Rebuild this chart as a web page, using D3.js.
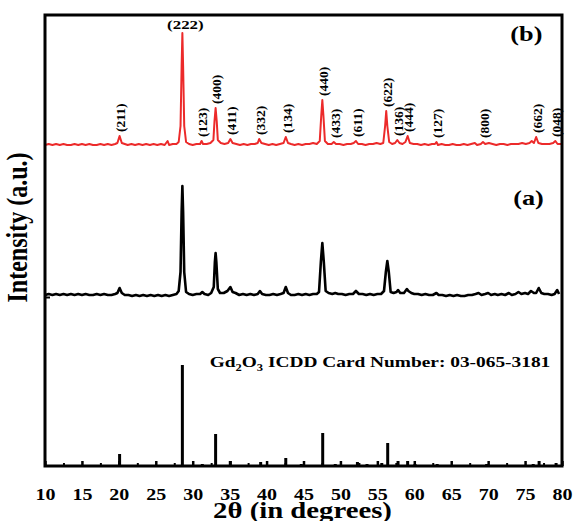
<!DOCTYPE html>
<html>
<head>
<meta charset="utf-8">
<script src="https://cdn.jsdelivr.net/npm/d3@7/dist/d3.min.js"></script>
<style>
    body { margin: 0; background: #fff; }
    text { font-family: "Liberation Serif", "Times New Roman", serif; font-weight: bold; }
</style>
</head>
<body>
<div id="chart"></div>
<script>
// 2theta ticks
const xMajor = [10, 15, 20, 25, 30, 35, 40, 45, 50, 55, 60, 65, 70, 75, 80]
const xMinor = [12.5, 17.5, 22.5, 27.5, 32.5, 37.5, 42.5, 47.5, 52.5, 57.5, 62.5, 67.5, 72.5, 77.5]

// (b) trace, [2theta, intensity a.u.] above its own baseline
const traceB = [
    [10, 1], [10.5, 2], [11, 1], [11.5, 2], [12, 1], [12.5, 2], [13, 1], [13.5, 1], [14, 2], [14.5, 1],
    [15, 2], [15.5, 1], [16, 2], [16.5, 1], [17, 1], [17.5, 2], [18, 1], [18.5, 2], [19, 1], [19.5, 2],
    [19.8, 3], [20.1, 10], [20.4, 3], [20.8, 2], [21.2, 1], [21.7, 2], [22.2, 1], [22.7, 2], [23.2, 1], [23.7, 2],
    [24.2, 1], [24.7, 2], [25.2, 1], [25.7, 2], [26.2, 1], [26.6, 5], [26.8, 1], [27.3, 2], [27.8, 2], [28.1, 4],
    [28.35, 20], [28.5, 80], [28.6, 113], [28.7, 80], [28.85, 20], [29.1, 4], [29.5, 2], [30, 1], [30.5, 2], [31, 2],
    [31.2, 5], [31.4, 2], [31.9, 2], [32.4, 3], [32.8, 6], [32.95, 25], [33.1, 38], [33.25, 25], [33.4, 6], [33.8, 3],
    [34.3, 2], [34.8, 3], [35.1, 7], [35.4, 3], [35.9, 2], [36.4, 1], [36.9, 2], [37.4, 1], [37.9, 2], [38.4, 2],
    [38.8, 3], [39.0, 7], [39.3, 3], [39.8, 2], [40.3, 1], [40.8, 2], [41.3, 1], [41.8, 2], [42.3, 3], [42.6, 9],
    [42.9, 3], [43.3, 2], [43.8, 1], [44.3, 2], [44.8, 1], [45.3, 2], [45.8, 2], [46.3, 3], [46.8, 2], [47.2, 5],
    [47.4, 30], [47.55, 46], [47.7, 30], [47.9, 5], [48.3, 2], [48.8, 2], [49.1, 4], [49.4, 2], [49.9, 2], [50.4, 1],
    [50.9, 2], [51.4, 2], [51.8, 3], [52.1, 5], [52.4, 2], [52.9, 2], [53.4, 1], [53.9, 2], [54.4, 2], [54.9, 3],
    [55.4, 2], [55.8, 3], [56.05, 20], [56.2, 35], [56.35, 20], [56.6, 4], [57, 2], [57.4, 3], [57.7, 6], [58, 3],
    [58.4, 2], [58.8, 4], [59.1, 10], [59.4, 3], [59.9, 2], [60.4, 2], [60.9, 1], [61.4, 2], [61.9, 1], [62.4, 2],
    [62.8, 2], [63, 4], [63.2, 1], [63.7, 2], [64.2, 1], [64.7, 1], [65.2, 2], [65.7, 1], [66.2, 1], [66.7, 2],
    [67.2, 1], [67.7, 2], [68.2, 3], [68.5, 1], [69, 2], [69.3, 4], [69.6, 2], [70.1, 3], [70.6, 2], [71.1, 1],
    [71.6, 2], [72.1, 2], [72.6, 1], [73.1, 2], [73.6, 2], [74.1, 2], [74.6, 3], [75.1, 2], [75.6, 3], [75.9, 5],
    [76.2, 3], [76.5, 9], [76.8, 3], [77.3, 2], [77.8, 2], [78.3, 2], [78.8, 3], [79.1, 5], [79.4, 2], [79.9, 2]
]

// (a) trace
const traceA = [
    [10, 2], [10.5, 3], [11, 2], [11.5, 3], [12, 2], [12.5, 3], [13, 2], [13.5, 3], [14, 2], [14.5, 3],
    [15, 2], [15.5, 3], [16, 2], [16.5, 2], [17, 3], [17.5, 2], [18, 3], [18.5, 2], [19, 2], [19.5, 3],
    [19.8, 4], [20.1, 9], [20.4, 4], [20.8, 2], [21.3, 2], [21.8, 1], [22.3, 2], [22.8, 1], [23.3, 2], [23.8, 1],
    [24.3, 2], [24.8, 1], [25.3, 2], [25.8, 1], [26.3, 2], [26.8, 1], [27.3, 2], [27.8, 3], [28.1, 6], [28.35, 25],
    [28.5, 85], [28.6, 111], [28.7, 85], [28.85, 25], [29.1, 5], [29.5, 3], [30, 2], [30.5, 3], [31, 3], [31.3, 5],
    [31.6, 3], [32.1, 2], [32.5, 4], [32.85, 10], [33, 35], [33.1, 44], [33.2, 35], [33.4, 8], [33.7, 4], [34.2, 4],
    [34.7, 6], [35.1, 10], [35.4, 5], [35.8, 4], [36.3, 2], [36.8, 3], [37.3, 2], [37.8, 3], [38.3, 2], [38.8, 3],
    [39.1, 6], [39.4, 3], [39.9, 2], [40.4, 2], [40.9, 3], [41.4, 2], [41.9, 3], [42.3, 4], [42.6, 10], [42.9, 4],
    [43.3, 2], [43.8, 2], [44.3, 3], [44.8, 2], [45.3, 3], [45.8, 2], [46.3, 3], [46.8, 3], [47.1, 5], [47.35, 35],
    [47.55, 54], [47.75, 35], [48, 6], [48.4, 4], [48.9, 3], [49.3, 4], [49.7, 3], [50.2, 3], [50.7, 2], [51.2, 3],
    [51.7, 3], [52.1, 6], [52.5, 3], [53, 3], [53.5, 2], [54, 3], [54.5, 2], [55, 3], [55.5, 3], [55.9, 6],
    [56.15, 25], [56.35, 36], [56.55, 25], [56.8, 5], [57.2, 4], [57.6, 5], [57.8, 7], [58.1, 4], [58.6, 4], [59, 8],
    [59.2, 6], [59.6, 4], [60, 3], [60.5, 3], [61, 2], [61.5, 3], [62, 2], [62.5, 2], [63, 4], [63.3, 2],
    [63.8, 2], [64.3, 1], [64.8, 2], [65.3, 1], [65.8, 2], [66.3, 1], [66.8, 1], [67.3, 2], [67.8, 2], [68.3, 3],
    [68.7, 4], [69.1, 2], [69.6, 3], [70, 4], [70.4, 2], [70.9, 3], [71.3, 2], [71.8, 3], [72.3, 2], [72.8, 4],
    [73.2, 2], [73.7, 3], [74.1, 5], [74.5, 3], [75, 4], [75.4, 3], [75.8, 6], [76.2, 4], [76.5, 4], [76.85, 9],
    [77.2, 4], [77.6, 3], [78.1, 3], [78.6, 2], [79, 3], [79.35, 7], [79.6, 3]
]

// ICDD reference sticks [2theta, relative intensity]
const sticks = [
    [20.1, 12], [28.6, 101], [31.3, 2], [33.1, 32], [35.1, 5], [37.0, 1], [39.2, 4], [40.9, 1], [42.6, 8],
    [44.7, 2], [47.6, 33], [49.3, 2], [52.3, 4], [53.6, 2], [55.6, 3], [56.4, 23], [57.8, 5], [59.1, 5],
    [60.1, 2], [61.8, 1], [63.1, 2], [64.9, 1], [67.9, 1], [69.8, 2], [71.2, 1], [74.7, 1], [76.1, 2],
    [76.9, 5], [79.2, 3]
]

// hkl labels on trace (b)
const hklLabels = ['(211)', '(222)', '(123)', '(400)', '(411)', '(332)', '(134)', '(440)', '(433)', '(611)',
    '(622)', '(136)', '(444)', '(127)', '(800)', '(662)', '(048)']
const hklPos = [20.1, 28.6, 31.2, 33.1, 35.1, 39.0, 42.6, 47.55, 49.1, 52.1, 56.2, 57.7, 59.1, 63.0, 69.3, 76.5, 79.1]
const hklHeight = [10, 113, 5, 38, 7, 7, 9, 46, 4, 5, 35, 6, 10, 4, 4, 9, 5]

const offsetA = 169
const offsetB = 320

const width = 574
const height = 521
const padding = { top: 15, right: 12, bottom: 55, left: 45 }
const innerWidth = width - padding.left - padding.right
const innerHeight = height - padding.top - padding.bottom
const SX = 1.25 // text in the original is stretched sideways

const svg = d3.select('#chart').
    append('svg').
    attr('width', width).
    attr('height', height).
    append('g').
    attr('transform', `translate(${padding.left}, ${padding.top})`)

const x = d3.scaleLinear().domain([10, 80]).range([0, innerWidth])
const y = d3.scaleLinear().domain([0, innerHeight]).range([innerHeight, 0])

// reference sticks
svg.selectAll().
    data(sticks).
    enter().
    append('line').
    attr('x1', d => x(d[0])).
    attr('x2', d => x(d[0])).
    attr('y1', y(0)).
    attr('y2', d => y(d[1])).
    attr('stroke', '#000').
    attr('stroke-width', 3)

// traces
const lineA = d3.line().x(d => x(d[0])).y(d => y(offsetA + d[1]))
const lineB = d3.line().x(d => x(d[0])).y(d => y(offsetB + d[1]))

svg.append('path').
    datum(traceA).
    attr('d', lineA).
    attr('fill', 'none').
    attr('stroke', '#000').
    attr('stroke-width', 2.6).
    attr('stroke-linejoin', 'round')

svg.append('path').
    datum(traceB).
    attr('d', lineB).
    attr('fill', 'none').
    attr('stroke', '#ec2a2a').
    attr('stroke-width', 2).
    attr('stroke-linejoin', 'round')

// hkl labels
hklLabels.forEach((label, i) => {
    const px = x(hklPos[i])
    const py = y(offsetB + hklHeight[i]) - 4
    if (label === '(222)') {
        svg.append('text').
            text(label).
            attr('transform', `translate(${px + 3}, ${py}) scale(${SX}, 1)`).
            attr('text-anchor', 'middle').
            attr('font-size', 13.5)
    } else {
        svg.append('text').
            text(label).
            attr('transform', `translate(${px + 1}, ${py}) rotate(-90)`).
            attr('dy', '0.35em').
            attr('font-size', 13.5)
    }
})

// panel tags
svg.append('text').text('(b)').
    attr('transform', `translate(${x(73)}, 26) scale(${SX}, 1)`).
    attr('font-size', 21)
svg.append('text').text('(a)').
    attr('transform', `translate(${x(73.4)}, 190) scale(${SX}, 1)`).
    attr('font-size', 21)

const card = svg.append('text').
    attr('transform', `translate(${x(32.3)}, 352) scale(${SX}, 1)`).
    attr('font-size', 15.5)
card.append('tspan').text('Gd')
card.append('tspan').text('2').attr('font-size', 10).attr('dy', 4)
card.append('tspan').text('O').attr('dy', -4)
card.append('tspan').text('3').attr('font-size', 10).attr('dy', 4)
card.append('tspan').text(' ICDD Card Number: 03-065-3181').attr('dy', -4)

// frame
svg.append('rect').
    attr('x', 0).
    attr('y', 0).
    attr('width', innerWidth).
    attr('height', innerHeight).
    attr('fill', 'none').
    attr('stroke', '#000').
    attr('stroke-width', 3)

// x axis, ticks point inward
const xAxis = svg.append('g').
    attr('transform', `translate(0, ${innerHeight})`).
    call(d3.axisBottom(x).tickValues(xMajor).tickSize(-5).tickPadding(23).tickFormat(d3.format('d')))
xAxis.select('.domain').remove()
xAxis.selectAll('line').attr('stroke-width', 2.5)
xAxis.selectAll('text').
    attr('font-size', 16).
    attr('font-family', '"Liberation Serif", serif').
    attr('fill', '#000').
    attr('transform', `scale(${SX}, 1)`)

const xMinorAxis = svg.append('g').
    attr('transform', `translate(0, ${innerHeight})`).
    call(d3.axisBottom(x).tickValues(xMinor).tickSize(-3).tickFormat(''))
xMinorAxis.select('.domain').remove()
xMinorAxis.selectAll('line').attr('stroke-width', 2)

// y axis single tick
const yAxis = svg.append('g').
    call(d3.axisLeft(y).tickValues([offsetA]).tickSize(-5).tickFormat(''))
yAxis.select('.domain').remove()
yAxis.selectAll('line').attr('stroke-width', 2)

// titles
svg.append('text').
    text('2θ (in degrees)').
    attr('transform', `translate(${innerWidth / 2 - 1}, ${innerHeight + 52}) scale(${SX}, 1)`).
    attr('text-anchor', 'middle').
    attr('font-size', 23)

svg.append('text').
    text('Intensity (a.u.)').
    attr('transform', `translate(-18, ${innerHeight / 2 - 13}) scale(${SX}, 1) rotate(-90)`).
    attr('text-anchor', 'middle').
    attr('font-size', 24)
</script>
</body>
</html>
